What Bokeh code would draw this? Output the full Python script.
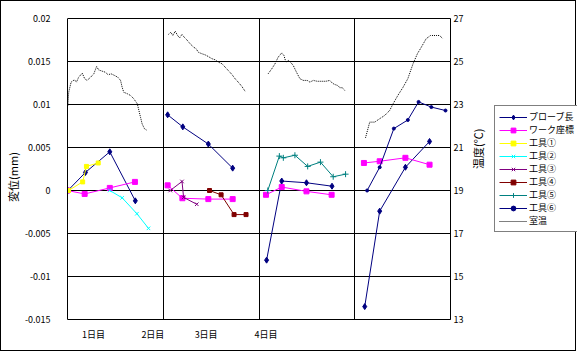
import math
from bokeh.plotting import figure
from bokeh.models import Range1d, LinearAxis, FixedTicker, Legend, LegendItem
from bokeh.embed import file_html
from bokeh.resources import INLINE

nan = float("nan")

# x in hours (each day = 24 h); NaN separates days
x_days_end = 96
x_tick_pos = [6.5, 21.4, 34.75, 49.75]
x_tick_labels = ["1日目", "2日目", "3日目", "4日目"]
day_bounds = [24, 48, 72]

y_min, y_max = -0.015, 0.02
y_ticks = [-0.015, -0.01, -0.005, 0, 0.005, 0.01, 0.015, 0.02]
y_tick_labels = ["-0.015", "-0.01", "-0.005", "0", "0.005", "0.01", "0.015", "0.02"]
t_min, t_max = 13, 27
t_ticks = [13, 15, 17, 19, 21, 23, 25, 27]

probe_x = [0.1, 4.5, 10.6, 17.0, nan, 25.1, 28.9, 35.3, 41.4, nan, 49.9, 53.7, 59.9, 66.3, nan, 74.5, 78.25, 84.7, 90.75]
probe_y = [0, 0.0021, 0.0045, -0.0012, nan, 0.0088, 0.0074, 0.0054, 0.0026, nan, -0.0081, 0.0011, 0.0009, 0.0005, nan, -0.0135, -0.0024, 0.0027, 0.0057]

work_x = [0.0, 4.3, 10.6, 16.9, nan, 25.1, 28.8, 35.3, 41.4, nan, 49.75, 53.7, 59.9, 66.2, nan, 74.3, 78.25, 84.7, 90.75]
work_y = [0, -0.0004, 0.0003, 0.001, nan, 0.0006, -0.0009, -0.001, -0.001, nan, -0.0005, 0.0004, -0.0001, -0.0005, nan, 0.0032, 0.0034, 0.0038, 0.003]

tool1_x = [0.25, 3.8, 4.75, 7.7]
tool1_y = [0, 0.001, 0.0028, 0.0032]
tool2_x = [10.6, 13.7, 17.4, 20.3]
tool2_y = [0, -0.00085, -0.0027, -0.0044]
tool3_x = [25.75, 28.7, 29.1, 32.4]
tool3_y = [0, 0.00105, -0.0008, -0.0016]
tool4_x = [35.6, 38.5, 41.75, 44.75]
tool4_y = [0, -0.0005, -0.0028, -0.0028]
tool5_x = [50.2, 53.1, 54.1, 57.0, 60.2, 63.4, 66.6, 69.7]
tool5_y = [0, 0.004, 0.0038, 0.0041, 0.0028, 0.0033, 0.0016, 0.0019]
tool6_x = [75.1, 78.25, 81.8, 85.3, 88.0, 91.2, 94.75]
tool6_y = [0, 0.0027, 0.0072, 0.0082, 0.0103, 0.0097, 0.0093]

temp_x = [0.1, 0.3, 0.9, 1.75, 2.25, 2.8, 3.7, 4.3, 4.9, 5.8, 6.6, 7.3, 7.8, 8.7, 9.5, 10.2, 10.9, 11.8, 12.6, 13.3, 13.7, 14.1, 15.0, 15.8, 16.6, 17.5, 17.9, 18.3, 18.7, 19.3, 20.0,
          nan,
          25.3, 25.9, 26.4, 27.0, 27.6, 28.1, 28.7, 29.25, 29.9, 30.75, 31.6, 32.25, 32.8, 33.7, 34.5, 35.3, 36.2, 37.0, 37.8, 38.7, 39.5, 40.3, 41.2, 42.0, 42.8, 43.7, 44.5,
          nan,
          50.3, 51.2, 52.0, 52.8, 53.7, 54.25, 54.75, 55.3, 55.9, 56.6, 57.4, 58.25, 59.1, 60.1, 60.75, 61.6, 62.6, 63.7, 64.75, 65.75, 66.4, 67.0, 67.8, 68.25, 68.9, 69.5,
          nan,
          74.7, 75.75, 77.0, 78.25, 79.5, 80.75, 81.6, 82.8, 84.1, 85.3, 86.6, 87.7, 88.7, 89.9, 91.0, 92.4, 93.25, 94.1]
temp_y = [22.95, 23.57, 24.04, 24.15, 24.04, 24.27, 24.46, 24.20, 24.12, 24.27, 24.43, 24.77, 24.61, 24.55, 24.50, 24.38, 24.43, 24.35, 24.27, 24.12, 23.80, 23.57, 23.50, 23.42, 23.27, 23.03, 22.72, 22.41, 22.10, 21.87, 21.79,
          nan,
          26.26, 26.36, 26.21, 26.41, 26.21, 26.10, 26.26, 26.13, 26.01, 25.82, 25.67, 25.59, 25.43, 25.36, 25.31, 25.23, 25.13, 25.08, 24.97, 24.90, 24.74, 24.58, 24.40, 24.20, 24.04, 23.84, 23.62,
          nan,
          24.43, 24.66, 24.89, 25.20, 25.40, 25.28, 24.97, 25.05, 24.97, 24.81, 24.50, 24.20, 24.12, 24.12, 24.04, 24.12, 24.08, 24.08, 24.08, 24.12, 23.99, 23.93, 23.88, 23.78, 23.78, 23.65,
          nan,
          21.45, 22.18, 22.18, 22.34, 22.49, 22.72, 23.03, 23.42, 23.80, 24.20, 24.89, 25.36, 25.67, 26.06, 26.21, 26.21, 26.21, 26.06]

FONT = "Noto Sans CJK JP"

# Frame geometry (canvas px). The frame is larger than the plotted area so that the
# axis labels and the legend, which sit inside the frame, are not clipped.
FRAME_L, FRAME_R, DAYS_R = 66, 576, 449
PLOT_T, PLOT_B, PAD_T, PAD_B = 17, 318, 9, 25
x_end = x_days_end * (FRAME_R - FRAME_L) / (DAYS_R - FRAME_L)
y_pad_t = (y_max - y_min) * PAD_T / (PLOT_B - PLOT_T)
y_pad_b = (y_max - y_min) * PAD_B / (PLOT_B - PLOT_T)
t_pad_t = (t_max - t_min) * PAD_T / (PLOT_B - PLOT_T)
t_pad_b = (t_max - t_min) * PAD_B / (PLOT_B - PLOT_T)

p = figure(width=576, height=351, output_backend="svg", toolbar_location=None,
           x_range=Range1d(0, x_end), y_range=Range1d(y_min - y_pad_b, y_max + y_pad_t),
           min_border_left=FRAME_L, min_border_right=0,
           min_border_top=PLOT_T - PAD_T, min_border_bottom=351 - PLOT_B - PAD_B,
           background_fill_color="white", border_fill_color="white")
p.styles = {"border": "1px solid black"}
p.outline_line_color = None
p.extra_y_ranges = {"temp": Range1d(t_min - t_pad_b, t_max + t_pad_t)}

# grids (bounded to the plotted area)
xg = p.xgrid[0]
yg = p.ygrid[0]
xg.ticker = FixedTicker(ticks=day_bounds)
yg.ticker = FixedTicker(ticks=y_ticks)
if "cross_bounds" in yg.properties():
    xg.cross_bounds = (y_min, y_max)
    yg.cross_bounds = (0, x_days_end)
    for g in (xg, yg):
        g.grid_line_color = "black"
        g.grid_line_width = 1
else:
    xg.grid_line_color = None
    yg.grid_line_color = None
    p.segment(x0=[0] * len(y_ticks), x1=[x_days_end] * len(y_ticks), y0=y_ticks, y1=y_ticks,
              line_color="black", line_width=1)
    p.segment(x0=day_bounds, x1=day_bounds, y0=[y_min] * len(day_bounds), y1=[y_max] * len(day_bounds),
              line_color="black", line_width=1)

# left axis
ya = p.yaxis[0]
ya.ticker = FixedTicker(ticks=y_ticks)
ya.bounds = (y_min, y_max)
ya.major_label_overrides = {t: l for t, l in zip(y_ticks, y_tick_labels)}
ya.axis_label = "変位(mm)"
ya.major_label_standoff = 17
ya.axis_label_standoff = 1

# bottom axis, drawn at the bottom of the plotted area
xa = p.xaxis[0]
xa.ticker = FixedTicker(ticks=x_tick_pos)
xa.major_label_overrides = {t: l for t, l in zip(x_tick_pos, x_tick_labels)}
xa.major_label_standoff = 8
xa.bounds = (0, x_days_end)
xa.fixed_location = y_min

# right axis, drawn at the right edge of the plotted days
ra = LinearAxis(y_range_name="temp", ticker=FixedTicker(ticks=t_ticks), fixed_location=x_days_end)
ra.bounds = (t_min, t_max)
ra.major_label_standoff = 3
ra.axis_label = "温度(℃)"
ra.axis_label_orientation = math.pi / 2
ra.axis_label_standoff = 12
p.add_layout(ra, "right")

for ax in [ya, xa, ra]:
    ax.major_tick_out = 0
    ax.major_tick_in = 0
    ax.minor_tick_out = 0
    ax.minor_tick_in = 0
    ax.axis_line_color = "black"
    ax.major_label_text_font = FONT
    ax.major_label_text_font_size = "9px"
    ax.major_label_text_color = "black"
    ax.axis_label_text_font = FONT
    ax.axis_label_text_font_size = "11px"
    ax.axis_label_text_font_style = "normal"
    ax.axis_label_text_color = "black"

items = []

def series(label, xs, ys, color, marker, size, y_range_name="default", dash="solid"):
    rs = []
    rs.append(p.line(xs, ys, line_color=color, line_width=1, line_dash=dash, y_range_name=y_range_name))
    if marker is not None:
        rs.append(p.scatter(xs, ys, marker=marker, size=size, line_color=color, fill_color=color,
                            y_range_name=y_range_name))
    items.append(LegendItem(label=label, renderers=rs))

series("プローブ長", probe_x, probe_y, "#000080", "diamond", 6)
series("ワーク座標", work_x, work_y, "#FF00FF", "square", 5)
series("工具①", tool1_x, tool1_y, "#FFFF00", "square", 4)
series("工具②", tool2_x, tool2_y, "#00FFFF", "x", 5)
series("工具③", tool3_x, tool3_y, "#800080", "x", 5)
series("工具④", tool4_x, tool4_y, "#800000", "square", 4)
series("工具⑤", tool5_x, tool5_y, "#008080", "cross", 6)
series("工具⑥", tool6_x, tool6_y, "#000080", "circle", 3)
series("室温", temp_x, temp_y, "black", None, 0, y_range_name="temp", dash="1 1")

legend = Legend(items=items, location=(427, PLOT_B + PAD_B - 231), border_line_color="black", border_line_width=1,
                background_fill_color="white", background_fill_alpha=1.0,
                label_text_font=FONT, label_text_font_size="9px", label_text_color="black",
                glyph_width=28, glyph_height=12, label_height=12, spacing=0, padding=4,
                margin=0, label_standoff=2)
p.add_layout(legend)

open("out.html", "w").write(file_html(p, INLINE))
